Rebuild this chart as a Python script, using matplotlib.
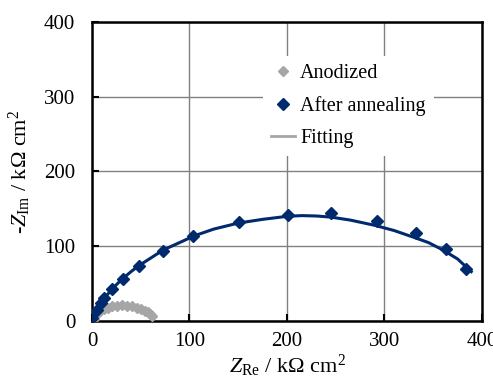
import numpy as np
import matplotlib.pyplot as plt

plt.rcParams['font.family'] = ['Liberation Serif', 'DejaVu Serif']
plt.rcParams['mathtext.fontset'] = 'custom'
plt.rcParams['mathtext.rm'] = 'Liberation Serif'
plt.rcParams['mathtext.it'] = 'Liberation Serif:italic'

# measured spectra (Z_Re, -Z_Im) in kOhm cm2
anod_re = [2, 5, 8, 12, 16, 21, 26, 31, 36, 41, 46, 50, 54, 57, 60, 62]
anod_im = [3, 9, 13, 16, 18, 19.5, 20.5, 21, 20.5, 19.5, 18, 16, 14, 11.5, 9, 7]

ann_re = [0, 4.8, 8.9, 12.3, 20.8, 31.4, 48.5, 73, 104, 151, 201, 245, 292, 332, 363, 384]
ann_im = [4, 14.7, 23.6, 30.3, 42.4, 55.8, 73.6, 94, 114, 132, 142, 144, 134, 118, 96, 69]

# fitted curves
fit_anod_re = [0, 3, 6, 10, 15, 20, 26, 31, 36, 42, 47, 52, 56, 60, 63]
fit_anod_im = [0, 6, 11, 14.5, 17, 18.5, 19.5, 20, 19.5, 18.5, 17, 15, 12.5, 9, 6]

fit_ann_re = [0, 3, 6, 10, 15, 20, 30, 40, 48, 60, 73, 90, 105, 125, 150, 175,
              200, 215, 230, 245, 265, 290, 310, 330, 345, 360, 375, 389]
fit_ann_im = [0, 9, 17, 25, 34, 42, 55, 66, 74, 84, 95, 105, 114, 123, 131, 136,
              140, 141, 140.5, 139, 135, 128, 121, 112, 105, 95, 83, 66]

navy = '#002a6e'
grey = '#a6a6a6'

fig = plt.figure(figsize=(4.93, 3.85), dpi=100)
ax = fig.add_axes([0.1866, 0.1662, 0.791, 0.7767])

ax.plot(fit_anod_re, fit_anod_im, color=grey, lw=2, zorder=2)
ax.plot(fit_ann_re, fit_ann_im, color=navy, lw=2.2, zorder=2)
ax.plot(anod_re, anod_im, 'D', color=grey, ms=5, zorder=3)
ax.plot(ann_re, ann_im, 'D', color=navy, ms=6, zorder=3)

ax.set_xlim(0, 400)
ax.set_ylim(0, 400)
ax.set_xticks([0, 100, 200, 300, 400])
ax.set_yticks([0, 100, 200, 300, 400])
ax.grid(True, color='#808080', lw=1)
ax.set_axisbelow(True)
ax.tick_params(direction='in', length=5, width=1.5, labelsize=15)
ax.tick_params(axis='y', pad=12)
ax.tick_params(axis='x', pad=8)
for s in ax.spines.values():
    s.set_linewidth(1.8)

ax.set_xlabel(r'$\mathit{Z}_{\mathrm{Re}}$ / k$\Omega$ cm$^{2}$', fontsize=16, labelpad=1)
ax.set_ylabel(r'-$\mathit{Z}_{\mathrm{Im}}$ / k$\Omega$ cm$^{2}$', fontsize=16, labelpad=8)

# legend handles
h1, = ax.plot([], [], 'D', color=grey, ms=5)
h2, = ax.plot([], [], 'D', color=navy, ms=6)
h3, = ax.plot([], [], '-', color=grey, lw=2)
leg = ax.legend([h1, h2, h3], ['Anodized', 'After annealing', 'Fitting'],
                loc='upper left', bbox_to_anchor=(0.412, 0.92), frameon=True,
                fontsize=14.5, handlelength=1.2, handletextpad=0.25,
                labelspacing=0.65, borderpad=0.4)
leg.get_frame().set_facecolor('white')
leg.get_frame().set_edgecolor('none')
leg.get_frame().set_alpha(1)

fig.savefig('out.png', dpi=100)
